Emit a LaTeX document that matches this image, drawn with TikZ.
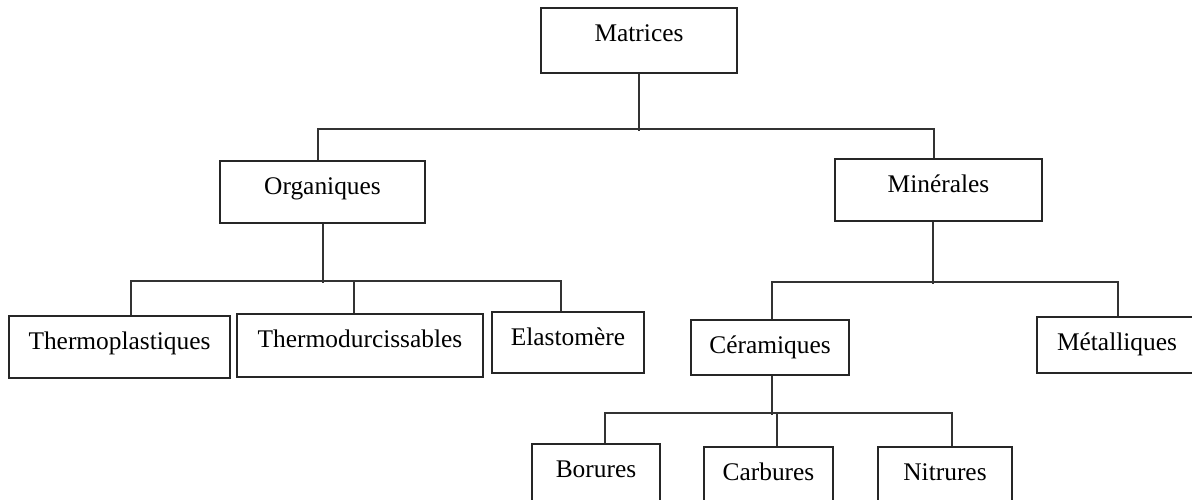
\documentclass[tikz,border=0pt]{standalone}
\usepackage{fontspec}
\setmainfont{Liberation Serif}
\usetikzlibrary{positioning}

\tikzset{
  boite/.style={draw=black!85, line width=0.8pt, anchor=base, inner sep=0pt,
    text height=16.5pt, text depth=#1, font=\fontsize{12.7pt}{15pt}\selectfont},
  boite/.default=14.5pt,
  lien/.style={draw=black!80, line width=0.8pt}
}

\begin{document}
\begin{tikzpicture}[x=0.5pt, y=-0.5pt]
            \useasboundingbox (0,0) rectangle (1192,499);
            \clip (0,0) rectangle (1192,499);

            % niveau 1
            \node[boite=16pt, minimum width=98pt] (matrices) at (639,41) {Matrices};

            % niveau 2
            \node[boite, minimum width=102.5pt] (organiques) at (322.5,194) {Organiques};
            \node[boite, minimum width=103.5pt] (minerales) at (938.5,192) {Minérales};

            % niveau 3
            \node[boite, minimum width=110.5pt] (thermoplastiques) at (119.5,349) {Thermoplastiques};
            \node[boite=15pt, minimum width=123pt] (thermodurcissables) at (360,347) {Thermodurcissables};
            \node[boite=14pt, minimum width=76pt] (elastomere) at (568,345) {Elastomère};
            \node[boite=11pt, minimum width=79pt] (ceramiques) at (770,353) {Céramiques};
            \node[boite=11.5pt, minimum width=80pt] (metalliques) at (1117,350) {Métalliques};

            % niveau 4
            \node[boite=20pt, minimum width=64pt] (borures) at (596,477) {Borures};
            \node[boite=20pt, minimum width=64.5pt] (carbures) at (768.5,480) {Carbures};
            \node[boite=20pt, minimum width=67pt] (nitrures) at (945,480) {Nitrures};

            % liaisons
            \draw[lien] (matrices.south) -- ++(0,57);
            \draw[lien] ([xshift=-2.25pt]organiques.north) -- ++(0,-31) -| ([xshift=-2.25pt]minerales.north);

            \draw[lien] ([xshift=0.25pt]organiques.south) -- ++(0,59);
            \draw[lien] ([xshift=5.75pt]thermoplastiques.north) -- ++(0,-34) -| ([xshift=-3.5pt]elastomere.north);
            \draw[lien] ([xshift=-3pt]thermodurcissables.north) -- ++(0,-32);

            \draw[lien] ([xshift=-2.75pt]minerales.south) -- ++(0,62);
            \draw[lien] ([xshift=1pt]ceramiques.north) -- ++(0,-37) -| ([xshift=0.5pt]metalliques.north);

            \draw[lien] ([xshift=1pt]ceramiques.south) -- ++(0,39);
            \draw[lien] ([xshift=4.5pt]borures.north) -- ++(0,-30) -| ([xshift=3.5pt]nitrures.north);
            \draw[lien] ([xshift=4.25pt]carbures.north) -- ++(0,-33);
        \end{tikzpicture}
\end{document}
